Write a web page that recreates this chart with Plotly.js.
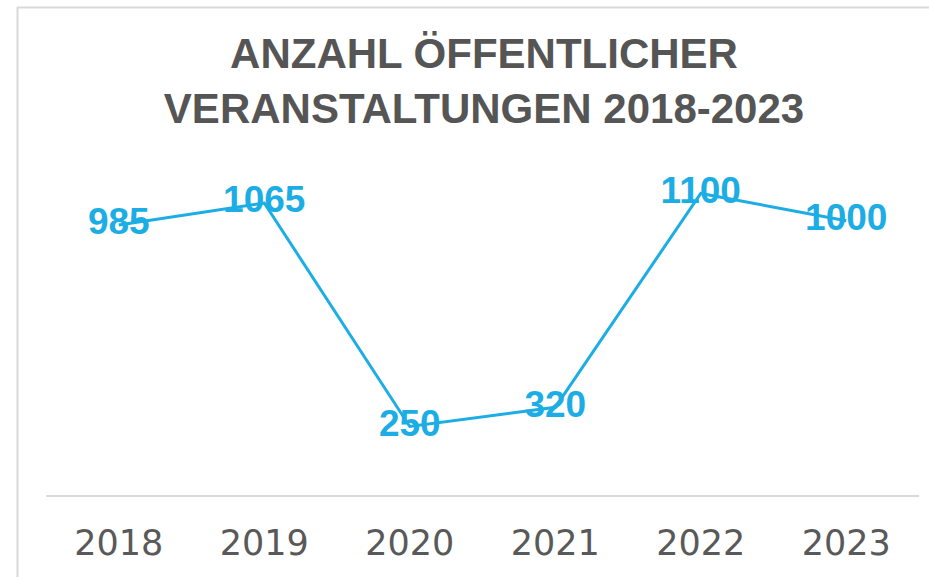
<!DOCTYPE html>
<html>
<head>
<meta charset="utf-8">
<script src="https://cdn.plot.ly/plotly-3.0.1.min.js"></script>
<style>
  html, body { margin: 0; padding: 0; background: #ffffff; }
  #chart { width: 929px; height: 577px; }
</style>
</head>
<body>
<div id="chart"></div>
<script>
const years = ['2018', '2019', '2020', '2021', '2022', '2023'];
const events = [985, 1065, 250, 320, 1100, 1000];
const labels = ['985', '1065', '250', '320', '1100', '1000'];
const titleText = 'ANZAHL ÖFFENTLICHER<br>VERANSTALTUNGEN 2018-2023';

const lineColor = '#1CADE4';

const traces = [
  {
    x: years,
    y: events,
    type: 'scatter',
    mode: 'lines',
    line: { color: lineColor, width: 3 },
    hoverinfo: 'skip',
    showlegend: false
  },
  {
    x: years,
    y: events,
    type: 'scatter',
    mode: 'text',
    text: labels,
    textposition: 'middle center',
    textfont: { family: 'Liberation Sans, Arial, sans-serif', size: 37, color: lineColor, weight: 'bold' },
    hoverinfo: 'skip',
    showlegend: false
  }
];

const L = 46, R = 10, T = 166, B = 82;
const W = 929, H = 577;
const pw = W - L - R, ph = H - T - B;
const px = v => (v - L) / pw;
const py = v => (H - B - v) / ph;

const layout = {
  width: W,
  height: H,
  margin: { l: L, r: R, t: T, b: B, pad: 0 },
  paper_bgcolor: '#ffffff',
  plot_bgcolor: '#ffffff',
  title: {
    text: titleText,
    font: { family: 'Liberation Sans, Arial, sans-serif', size: 42, color: '#555555', weight: 'bold' },
    x: 0.521,
    xanchor: 'center',
    xref: 'container',
    y: 1 - 68 / H,
    yanchor: 'top',
    yref: 'container'
  },
  xaxis: {
    type: 'category',
    range: [-0.5, 5.5],
    showgrid: false,
    zeroline: false,
    showline: true,
    linecolor: '#d9d9d9',
    linewidth: 1.5,
    ticks: '',
    ticklabelstandoff: 16,
    tickfont: { family: 'DejaVu Sans, sans-serif', size: 35, color: '#595959' },
    fixedrange: true
  },
  yaxis: {
    range: [0, 1200],
    showgrid: false,
    zeroline: false,
    showline: false,
    showticklabels: false,
    ticks: '',
    fixedrange: true
  },
  shapes: [
    { type: 'line', xref: 'paper', yref: 'paper', x0: px(17), x1: px(929), y0: py(7.5), y1: py(7.5), line: { color: '#d9d9d9', width: 2 } },
    { type: 'line', xref: 'paper', yref: 'paper', x0: px(17.5), x1: px(17.5), y0: py(7), y1: py(577), line: { color: '#d9d9d9', width: 2 } }
  ]
};

Plotly.newPlot('chart', traces, layout, { displayModeBar: false, staticPlot: true });
</script>
</body>
</html>
